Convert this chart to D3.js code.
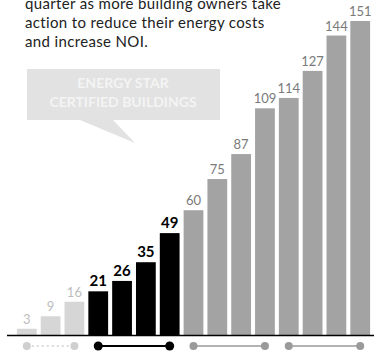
<!DOCTYPE html>
<html>
<head>
<meta charset="utf-8">
<script src="https://cdn.jsdelivr.net/npm/d3@7"></script>
<style>
  body { margin: 0; background: #fff; }
  svg { display: block; font-family: Lato, "Noto Sans", sans-serif; }
</style>
</head>
<body>
<div id="chart"></div>
<script>
// quarterly counts
var quarters = ["Q1","Q2","Q3","Q4","Q5","Q6","Q7","Q8","Q9","Q10","Q11","Q12","Q13","Q14","Q15"];
var counts = [3, 9, 16, 21, 26, 35, 49, 60, 75, 87, 109, 114, 127, 144, 151];
var groupOf = [0, 0, 0, 1, 1, 1, 1, 2, 2, 2, 2, 3, 3, 3, 3];
var introLines = ["quarter as more building owners take", "action to reduce their energy costs", "and increase NOI."];
var calloutLines = ["ENERGY STAR", "CERTIFIED BUILDINGS"];

var width = 374, height = 355;
var barFill = ["#d6d6d6", "#000000", "#a3a3a3", "#a3a3a3"];
var labelFill = ["#bdbdbd", "#000000", "#7a7a7a", "#7a7a7a"];
var dotFill = ["#cfcfcf", "#000000", "#9a9a9a", "#9a9a9a"];

var svg = d3.select("#chart").append("svg").attr("width", width).attr("height", height);

var x = d3.scaleBand().domain(quarters).range([15, 372]).paddingInner(0.17).paddingOuter(0.08);
var y = d3.scaleLinear().domain([0, 151]).range([335, 21]);

// intro text (top line runs into the page edge, as in the original crop)
svg.append("g").selectAll("text")
  .data(introLines)
  .join("text")
    .attr("x", 25)
    .attr("y", (d, i) => 9 + i * 19)
    .attr("font-size", 15)
    .attr("letter-spacing", 0.35)
    .attr("fill", "#222")
    .text(d => d);

// callout bubble
svg.append("path")
  .attr("d", "M27,69 L220,69 L220,120 L113,120 L135,143 L80,120 L27,120 Z")
  .attr("fill", "#e2e2e2");
svg.append("g").selectAll("text")
  .data(calloutLines)
  .join("text")
    .attr("x", 123)
    .attr("y", (d, i) => 88 + i * 19)
    .attr("text-anchor", "middle")
    .attr("font-size", 14)
    .attr("font-weight", "bold")
    .attr("fill", "#f4f4f4")
    .text(d => d);

// bars
svg.append("g").selectAll("rect")
  .data(counts)
  .join("rect")
    .attr("x", (d, i) => x(quarters[i]))
    .attr("y", d => y(d))
    .attr("width", x.bandwidth())
    .attr("height", d => y(0) - y(d))
    .attr("fill", (d, i) => barFill[groupOf[i]]);

// value labels
svg.append("g").selectAll("text")
  .data(counts)
  .join("text")
    .attr("x", (d, i) => x(quarters[i]) + x.bandwidth() / 2)
    .attr("y", d => y(d) - 5)
    .attr("text-anchor", "middle")
    .attr("font-size", (d, i) => groupOf[i] == 1 ? 15 : 13)
    .attr("font-weight", (d, i) => groupOf[i] == 1 ? "bold" : "normal")
    .attr("fill", (d, i) => labelFill[groupOf[i]])
    .text(d => d);

// baseline
svg.append("line")
  .attr("x1", 7).attr("x2", width)
  .attr("y1", y(0) + 0.5).attr("y2", y(0) + 0.5)
  .attr("stroke", "#000").attr("stroke-width", 1.5);

// group connectors under the axis
var groups = d3.groups(quarters.map((q, i) => ({q: q, g: groupOf[i]})), d => d.g);
var cy = 346;
var conn = svg.append("g").selectAll("g")
  .data(groups)
  .join("g");
conn.append("line")
  .attr("x1", d => x(d[1][0].q) + x.bandwidth() / 2)
  .attr("x2", d => x(d[1][d[1].length - 1].q) + x.bandwidth() / 2)
  .attr("y1", cy).attr("y2", cy)
  .attr("stroke", d => dotFill[d[0]])
  .attr("stroke-width", d => d[0] == 1 ? 2 : 1.5)
  .attr("stroke-dasharray", d => d[0] == 0 ? "2,3" : null);
conn.selectAll("circle")
  .data(d => [d[1][0], d[1][d[1].length - 1]].map(e => ({q: e.q, g: d[0]})))
  .join("circle")
    .attr("cx", d => x(d.q) + x.bandwidth() / 2)
    .attr("cy", cy)
    .attr("r", d => d.g == 1 ? 4.5 : 4)
    .attr("fill", d => dotFill[d.g]);
</script>
</body>
</html>
